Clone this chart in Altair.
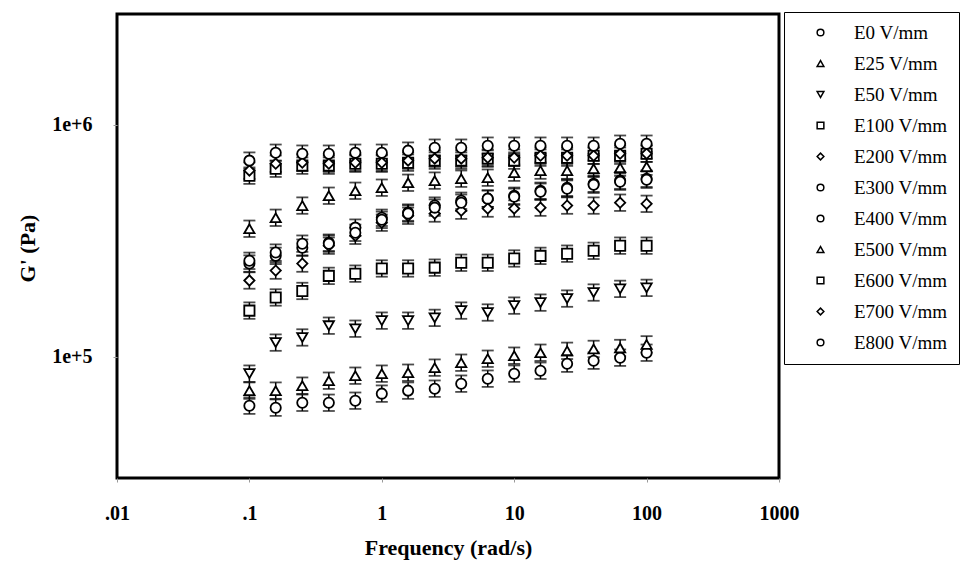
import altair as alt
import pandas as pd

# Oscillation frequencies (rad/s), five points per decade
FREQ = [0.1, 0.158, 0.251, 0.398, 0.631, 1.0, 1.58, 2.51, 3.98, 6.31,
        10.0, 15.8, 25.1, 39.8, 63.1, 100.0]

SERIES = ["E0 V/mm", "E25 V/mm", "E50 V/mm", "E100 V/mm", "E200 V/mm",
          "E300 V/mm", "E400 V/mm", "E500 V/mm", "E600 V/mm", "E700 V/mm",
          "E800 V/mm"]
SHAPES = ["circle", "triangle-up", "triangle-down", "square", "diamond",
          "circle", "circle", "triangle-up", "square", "diamond", "circle"]
COLORS = ["black"] * len(SERIES)

# Storage modulus G' (Pa) for each field strength
G_E0 = [61500, 60300, 63300, 63300, 64600, 69300, 71400, 72800, 76500, 80400,
        84500, 87000, 93300, 96100, 99000, 104000]
G_E25 = [71400, 71400, 75000, 78800, 82800, 84500, 85300, 89700, 94200, 98000,
         101000, 104000, 106000, 108000, 109000, 113000]
G_E50 = [84500, 115000, 121000, 136000, 132000, 143000, 143000, 147000, 158000,
         155000, 166000, 171000, 178000, 189000, 196000, 198000]
G_E100 = [158000, 180000, 192000, 223000, 228000, 240000, 240000, 242000,
          254000, 254000, 265000, 272000, 278000, 286000, 301000, 301000]
G_E200 = [213000, 235000, 252000, 301000, 332000, 378000, 405000, 414000,
          426000, 435000, 435000, 439000, 448000, 448000, 461000, 456000]
G_E300 = [252000, 272000, 295000, 310000, 360000, 397000, 418000, 448000,
          470000, 480000, 494000, 519000, 535000, 557000, 574000, 585000]
G_E400 = [259000, 281000, 307000, 307000, 342000, 389000, 414000, 439000,
          461000, 480000, 489000, 514000, 530000, 551000, 568000, 579000]
G_E500 = [356000, 397000, 448000, 494000, 519000, 535000, 562000, 574000,
          585000, 591000, 621000, 634000, 634000, 646000, 653000, 659000]
G_E600 = [603000, 646000, 666000, 666000, 679000, 679000, 686000, 700000,
          700000, 714000, 700000, 721000, 721000, 735000, 735000, 750000]
G_E700 = [634000, 679000, 686000, 679000, 686000, 686000, 700000, 714000,
          714000, 721000, 721000, 735000, 735000, 735000, 750000, 750000]
G_E800 = [700000, 757000, 750000, 750000, 757000, 757000, 773000, 796000,
          796000, 812000, 812000, 812000, 812000, 812000, 828000, 828000]

ALL_G = [G_E0, G_E25, G_E50, G_E100, G_E200, G_E300, G_E400, G_E500,
         G_E600, G_E700, G_E800]

# Relative half-width of the error bars (multiplicative)
ERR = 0.085

X_TICKS = [0.01, 0.1, 1, 10, 100, 1000]
X_TICK_LABELS = [".01", ".1", "1", "10", "100", "1000"]
Y_TICKS = [1e5, 1e6]
Y_TICK_LABELS = ["1e+5", "1e+6"]

rows = []
for name, vals in zip(SERIES, ALL_G):
    for f, g in zip(FREQ, vals):
        rows.append({"series": name, "freq": f, "g": g,
                     "lo": g / (1 + ERR), "hi": g * (1 + ERR)})
df = pd.DataFrame(rows)


def label_expr(values, labels):
    vals = ",".join(repr(float(v)) for v in values)
    labs = ",".join("'" + s + "'" for s in labels)
    return f"[{labs}][indexof([{vals}], datum.value)]"


FONT = "Liberation Serif"
X_TITLE = "Frequency (rad/s)"
Y_TITLE = "G' (Pa)"

x_scale = alt.Scale(type="log", domain=[0.01, 1000], nice=False)
y_scale = alt.Scale(type="log", domain=[3e4, 3e6], nice=False)

x_enc = alt.X(
    "freq:Q", scale=x_scale, title=X_TITLE,
    axis=alt.Axis(values=X_TICKS, labelExpr=label_expr(X_TICKS, X_TICK_LABELS),
                  labelPadding=21, titleY=69, titleBaseline="middle",
                  labelFlush=False),
)


def y_enc(field):
    return alt.Y(
        field, scale=y_scale, title=Y_TITLE,
        axis=alt.Axis(values=Y_TICKS,
                      labelExpr=label_expr(Y_TICKS, Y_TICK_LABELS),
                      labelPadding=21, titleX=-90, titleY=234,
                      titleBaseline="middle", titleAlign="center"),
    )


base = alt.Chart(df)

stems = base.mark_rule(color="black", strokeWidth=1.5).encode(
    x=x_enc, y=y_enc("lo:Q"), y2="hi:Q"
)
caps_lo = base.mark_tick(orient="horizontal", size=12, thickness=1.8,
                         color="black").encode(x=x_enc, y=y_enc("lo:Q"))
caps_hi = base.mark_tick(orient="horizontal", size=12, thickness=1.8,
                         color="black").encode(x=x_enc, y=y_enc("hi:Q"))

legend = alt.Legend(
    orient="none", legendX=667, legendY=-2, title=None,
    strokeColor="black", fillColor="white", padding=11,
    symbolSize=45, symbolOffset=16, labelOffset=24,
    symbolFillColor="white", symbolStrokeWidth=1.5, symbolOpacity=1,
    labelFont=FONT, labelFontSize=19,
    labelColor="black", rowPadding=11, labelLimit=200,
)

points = base.mark_point(filled=False, fill="white", fillOpacity=1,
                         strokeWidth=1.8, size=105, opacity=1).encode(
    x=x_enc,
    y=y_enc("g:Q"),
    shape=alt.Shape("series:N", scale=alt.Scale(domain=SERIES, range=SHAPES),
                    sort=SERIES, legend=legend),
    color=alt.Color("series:N", scale=alt.Scale(domain=SERIES, range=COLORS),
                    sort=SERIES, legend=legend),
)

chart = (
    alt.layer(stems, caps_lo, caps_hi, points)
    .properties(
        width=662, height=464,
        autosize=alt.AutoSizeParams(type="none"),
        padding={"left": 117, "top": 14, "right": 193, "bottom": 93},
        background="white",
    )
    .configure_view(stroke="black", strokeWidth=3)
    .configure_axis(
        domain=False, grid=False, ticks=True, tickSize=4, tickColor="#999999",
        labelFont=FONT, labelFontSize=20, labelFontWeight="bold",
        labelColor="black", titleFont=FONT, titleFontSize=22,
        titleFontWeight="bold", titleColor="black",
    )
)

chart.save("out.html", embed_options={"renderer": "svg", "actions": False})
